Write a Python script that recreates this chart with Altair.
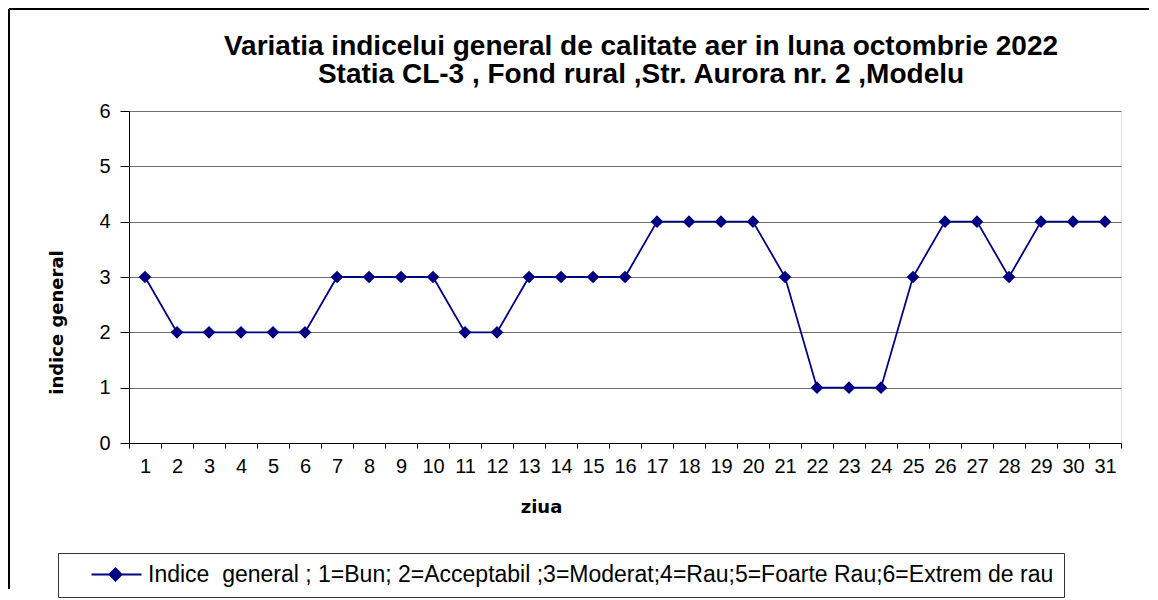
import altair as alt
import pandas as pd

days = list(range(1, 32))
values = [3, 2, 2, 2, 2, 2, 3, 3, 3, 3, 2, 2, 3, 3, 3, 3,
          4, 4, 4, 4, 3, 1, 1, 1, 3, 4, 4, 3, 4, 4, 4]
series_name = "Indice\u00a0 general ; 1=Bun; 2=Acceptabil ;3=Moderat;4=Rau;5=Foarte Rau;6=Extrem de rau"
title_lines = ["Variatia indicelui general de calitate aer in luna octombrie 2022",
               "Statia CL-3 , Fond rural ,Str. Aurora nr. 2 ,Modelu"]
y_ticks = [0, 1, 2, 3, 4, 5, 6]

df = pd.DataFrame({"ziua": days, "indice": values, "serie": [series_name] * len(days)})

NAVY = "#000080"
LABEL_FONT = "Liberation Sans"
TITLE_FONT = "DejaVu Sans"

x_enc = alt.X(
    "ziua:O",
    scale=alt.Scale(type="band", paddingInner=0, paddingOuter=0),
    bandPosition=0.5,
    axis=alt.Axis(
        title="ziua", tickBand="extent", labelAngle=0, tickSize=5,
        labelPadding=8, labelFontSize=20, labelFont=LABEL_FONT, labelColor="black",
        domainColor="black", tickColor="black", grid=False,
        titleFont=TITLE_FONT, titleFontSize=18, titleFontWeight="bold", titleColor="black",
        titleX=412, titleY=64, titleBaseline="middle", titleAlign="center",
    ),
)
y_enc = alt.Y(
    "indice:Q",
    scale=alt.Scale(domain=[0, 6], nice=False, zero=True),
    axis=alt.Axis(
        title="indice general", values=y_ticks, tickSize=9, labelPadding=10,
        labelFontSize=20, labelFont=LABEL_FONT, labelColor="black",
        domainColor="black", tickColor="black",
        grid=True, gridColor="#6e6e6e", gridWidth=1,
        titleFont=TITLE_FONT, titleFontSize=18, titleFontWeight="bold", titleColor="black",
        titleX=-63, titleY=211, titleAngle=-90, titleBaseline="bottom", titleAlign="center",
    ),
)
color_enc = alt.Color(
    "serie:N",
    scale=alt.Scale(range=[NAVY]),
    legend=alt.Legend(
        title=None, orient="none", legendX=-71, legendY=442, padding=10,
        strokeColor="#333333", fillColor="white",
        symbolType="M1.2,0L6.2,0M3.0,0L3.6,-0.6L4.2,0L3.6,0.6Z",
        symbolSize=400, symbolStrokeWidth=2, symbolFillColor=NAVY, symbolStrokeColor=NAVY,
        labelFont=LABEL_FONT, labelFontSize=23, labelColor="black", labelLimit=2000,
        labelOffset=57,
    ),
)

line = alt.Chart(df).mark_line(color=NAVY, strokeWidth=1.8).encode(
    x=x_enc, y=y_enc, color=color_enc
)
points = alt.Chart(df).mark_point(shape="diamond", filled=True, size=160, opacity=1, color=NAVY).encode(
    x=x_enc, y=y_enc
)

border_data = alt.Data(values=[{"k": 0}])
left_border = alt.Chart(border_data).mark_rule(color="black", strokeWidth=2).encode(
    x=alt.value(-120), y=alt.value(-102), y2=alt.value(478)
)
top_border = alt.Chart(border_data).mark_rule(color="black", strokeWidth=2).encode(
    x=alt.value(-120), x2=alt.value(1020), y=alt.value(-102)
)

chart = alt.layer(line, points, left_border, top_border).properties(
    width=992, height=332, padding=0,
    title=alt.TitleParams(
        text=title_lines, font=LABEL_FONT, fontSize=28, fontWeight="bold", color="black",
        anchor="middle", dx=16, offset=-81, lineHeight=28,
    ),
).configure_view(stroke=None).configure(background="white")

chart.save("out.html", embed_options={"renderer": "svg", "actions": False})
